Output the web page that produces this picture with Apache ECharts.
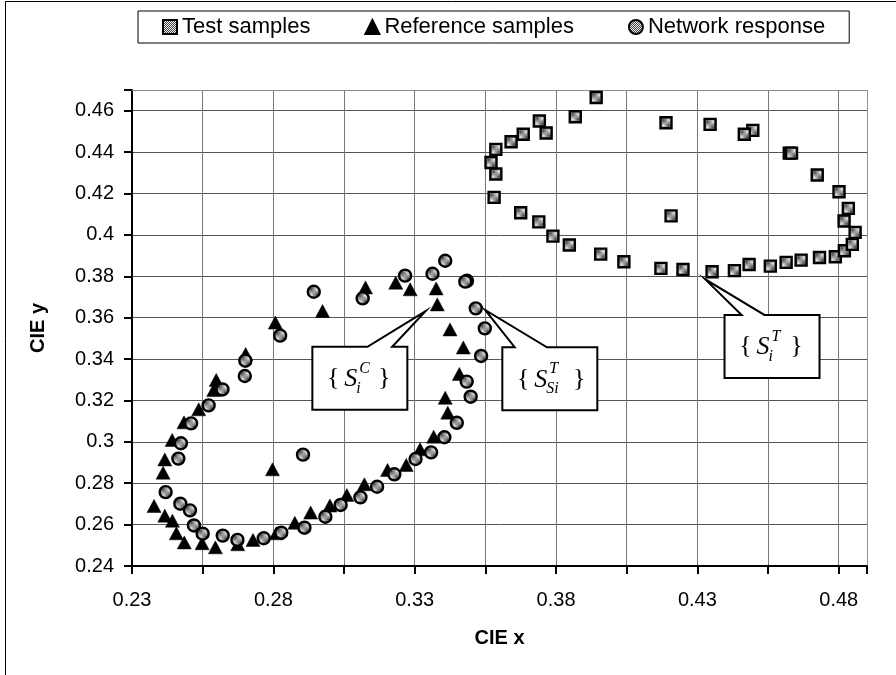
<!DOCTYPE html>
<html><head><meta charset="utf-8">
<script src="https://cdn.jsdelivr.net/npm/echarts@6/dist/echarts.min.js"></script>
<style>html,body{margin:0;padding:0;background:#fff}#c{width:896px;height:675px}</style>
</head><body><div id="c"></div>
<script>
// ---- data ----
const testX = [0.3942,0.3868,0.3741,0.3765,0.3684,0.3641,0.3587,0.3570,0.3587,0.3581,0.3675,0.3739,0.3789,0.3847,0.3958,0.4040,0.4171,0.4249,0.4352,0.4431,0.4483,0.4558,0.4614,0.4667,0.4732,0.4788,0.4820,0.4848,0.4858,0.4819,0.4834,0.4801,0.4724,0.4625,0.4633,0.4496,0.4466,0.4345,0.4189,0.4207];
const testY = [0.4664,0.4571,0.4550,0.4492,0.4486,0.4450,0.4413,0.4350,0.4294,0.4181,0.4107,0.4063,0.3994,0.3951,0.3907,0.3870,0.3838,0.3833,0.3822,0.3827,0.3857,0.3849,0.3867,0.3878,0.3891,0.3894,0.3923,0.3954,0.4012,0.4067,0.4128,0.4208,0.4289,0.4395,0.4395,0.4505,0.4486,0.4534,0.4542,0.4092];
const refX = [0.2974,0.2807,0.2702,0.2598,0.2589,0.2536,0.2484,0.2442,0.2416,0.2410,0.2797,0.2378,0.2416,0.2443,0.2457,0.2485,0.2548,0.2595,0.2674,0.2728,0.2810,0.2876,0.2932,0.3000,0.3126,0.3233,0.3284,0.3376,0.3380,0.3425,0.3472,0.3458,0.3408,0.3417,0.3367,0.3319,0.3270,0.3204,0.3122,0.3060];
const refY = [0.3632,0.3576,0.3424,0.3299,0.3250,0.3157,0.3094,0.3009,0.2915,0.2851,0.2867,0.2690,0.2643,0.2619,0.2558,0.2514,0.2510,0.2490,0.2505,0.2526,0.2558,0.2609,0.2658,0.2692,0.3746,0.3769,0.3737,0.3741,0.3664,0.3543,0.3456,0.3328,0.3213,0.3141,0.3025,0.2964,0.2888,0.2864,0.2795,0.2743];
const netX = [0.2943,0.2824,0.2701,0.2699,0.2620,0.2571,0.2509,0.2473,0.2464,0.2905,0.2419,0.2471,0.2505,0.2519,0.2550,0.2621,0.2673,0.2766,0.2828,0.2910,0.2984,0.3408,0.3266,0.3363,0.3485,0.3479,0.3116,0.3516,0.3548,0.3535,0.3484,0.3498,0.3449,0.3405,0.3358,0.3303,0.3228,0.3167,0.3108,0.3038];
const netY = [0.3725,0.3513,0.3392,0.3318,0.3253,0.3176,0.3089,0.2993,0.2919,0.2938,0.2757,0.2701,0.2669,0.2596,0.2556,0.2547,0.2526,0.2534,0.2561,0.2585,0.2638,0.3875,0.3803,0.3812,0.3778,0.3774,0.3693,0.3645,0.3548,0.3415,0.3291,0.3218,0.3092,0.3022,0.2949,0.2917,0.2843,0.2783,0.2732,0.2695];
const seriesNames = ['Test samples','Reference samples','Network response'];
const xTickLabels = ['0.23','0.28','0.33','0.38','0.43','0.48'];
const yTickLabels = ['0.24','0.26','0.28','0.3','0.32','0.34','0.36','0.38','0.4','0.42','0.44','0.46'];
// callouts: tip (data), box top-left (data), label parts
const callouts = [
  {tip:[0.3339,0.3632], box:[0.2938,0.3459], sup:'C', sub:'i'},
  {tip:[0.3549,0.3637], box:[0.3610,0.3457], sup:'T', sub:'Si'},
  {tip:[0.4328,0.3785], box:[0.4396,0.3613], sup:'T', sub:'i'}
];
const calloutTail = [[0.58,0.84],[0.13,0.47],[0.18,0.42]];

function zip(a,b){return a.map((v,i)=>[v,b[i]]);}
function pattern(dark, light){
  const c=document.createElement('canvas'); c.width=2;c.height=2;
  const g=c.getContext('2d'); g.fillStyle=light; g.fillRect(0,0,2,2);
  g.fillStyle=dark; g.fillRect(0,0,1,1); g.fillRect(1,1,1,1);
  return {image:c, repeat:'repeat'};
}
const hatch = pattern('#444','#eeeeee');

const chart = echarts.init(document.getElementById('c'), null, {renderer:'canvas'});
const font = 'Liberation Sans, Arial, sans-serif';
const option = {
  animation:false,
  backgroundColor:'#fff',
  grid:{left:132, right:29, top:90, bottom:109, show:false},
  legend:{
    top:11, left:138,
    padding:[5,24,5,24], itemGap:54,
    borderColor:'#000', borderWidth:1,
    itemWidth:14, itemHeight:14,
    textStyle:{fontFamily:font, fontSize:22, color:'#000'},
    data:seriesNames
  },
  xAxis:[{
    type:'value', min:0.23, max:0.49, interval:0.025,
    name:'CIE x', nameLocation:'middle', nameGap:62,
    nameTextStyle:{fontFamily:font, fontSize:20, fontWeight:'bold', color:'#000'},
    axisLine:{onZero:false, lineStyle:{color:'#000', width:2}},
    axisTick:{show:true, length:8, lineStyle:{color:'#000', width:2}},
    axisLabel:{fontFamily:font, fontSize:20, color:'#000', margin:24,
      formatter:function(v){const k=Math.round(v*1000); const s=(k/1000).toFixed(2); return xTickLabels.indexOf(s)>=0? s : '';}},
    splitLine:{show:true, lineStyle:{color:'#777', width:1}}
  },{
    type:'value', position:'top', min:0.23, max:0.49,
    axisLine:{show:true, lineStyle:{color:'#999', width:1, type:'dotted'}},
    axisTick:{show:false}, axisLabel:{show:false}, splitLine:{show:false}
  }],
  yAxis:[{
    type:'value', min:0.24, max:0.47, interval:0.02,
    name:'CIE y', nameLocation:'middle', nameGap:84, nameRotate:90,
    nameTextStyle:{fontFamily:font, fontSize:20, fontWeight:'bold', color:'#000'},
    axisLine:{onZero:false, lineStyle:{color:'#000', width:2}},
    axisTick:{show:true, length:8, lineStyle:{color:'#000', width:2}},
    axisLabel:{fontFamily:font, fontSize:20, color:'#000', margin:18,
      formatter:function(v){const s=String(+v.toFixed(2)); return yTickLabels.indexOf(s)>=0? s : '';}},
    splitLine:{show:true, lineStyle:{color:'#555', width:1}}
  },{
    type:'value', position:'right', min:0.24, max:0.47,
    axisLine:{show:true, lineStyle:{color:'#999', width:1, type:'dotted'}},
    axisTick:{show:false}, axisLabel:{show:false}, splitLine:{show:false}
  }],
  series:[
    {name:seriesNames[0], type:'scatter', data:zip(testX,testY), symbol:'rect', symbolSize:11,
     itemStyle:{color:hatch, borderColor:'#000', borderWidth:2.4, opacity:1}, z:3},
    {name:seriesNames[1], type:'scatter', data:zip(refX,refY), symbol:'triangle', symbolSize:[14,13],
     itemStyle:{color:'#000', borderColor:'#000', borderWidth:0.5, opacity:1}, z:3},
    {name:seriesNames[2], type:'scatter', data:zip(netX,netY), symbol:'circle', symbolSize:12,
     itemStyle:{color:hatch, borderColor:'#000', borderWidth:2.4, opacity:1}, z:3}
  ]
};
chart.setOption(option);

// outer chart border (only top/left visible in the reference crop)
const graphics = [{
  type:'rect', shape:{x:5.5, y:1.5, width:2000, height:2000},
  style:{fill:null, stroke:'#000', lineWidth:1}, silent:true, z:0
}];
const W=95, H=63;
const serif = 'Liberation Serif, Times New Roman, serif';
callouts.forEach((c,i)=>{
  const t = chart.convertToPixel({gridIndex:0}, c.tip);
  const b = chart.convertToPixel({gridIndex:0}, c.box);
  const bx=b[0], by=b[1];
  const b1 = bx + calloutTail[i][0]*W, b2 = bx + calloutTail[i][1]*W;
  graphics.push({
    type:'polygon', z:10,
    shape:{points:[[bx,by],[b1,by],[t[0],t[1]],[b2,by],[bx+W,by],[bx+W,by+H],[bx,by+H]]},
    style:{fill:'#fff', stroke:'#000', lineWidth:2}
  });
  const cy = by + H/2;
  const sx = bx + 32;
  const wide = c.sub.length>1;
  graphics.push({type:'text', z:11, style:{x:bx+21, y:cy, text:'{', font:'26px '+serif, fill:'#000', textAlign:'center', textVerticalAlign:'middle'}});
  graphics.push({type:'text', z:11, style:{x:sx, y:cy+1, text:'S', font:'italic 26px '+serif, fill:'#000', textAlign:'left', textVerticalAlign:'middle'}});
  graphics.push({type:'text', z:11, style:{x:sx+15, y:cy-10, text:c.sup, font:'italic 16px '+serif, fill:'#000', textAlign:'left', textVerticalAlign:'middle'}});
  graphics.push({type:'text', z:11, style:{x:sx+12, y:cy+10, text:c.sub, font:'italic 16px '+serif, fill:'#000', textAlign:'left', textVerticalAlign:'middle'}});
  graphics.push({type:'text', z:11, style:{x:bx+(wide?77:72), y:cy, text:'}', font:'26px '+serif, fill:'#000', textAlign:'center', textVerticalAlign:'middle'}});
});
chart.setOption({graphic:graphics});
</script></body></html>
